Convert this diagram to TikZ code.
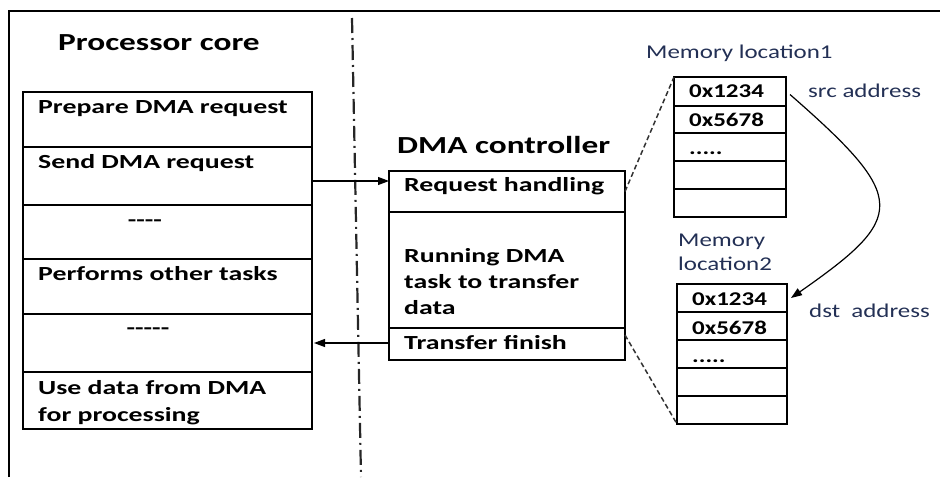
\documentclass[tikz,border=0pt]{standalone}
\usepackage{fontspec}
\setmainfont{Carlito}[FakeStretch=1.28]
\newfontfamily\boxfont{Carlito}[FakeStretch=1.39]
\newfontfamily\headfont{Carlito}[FakeStretch=1.36]
\usetikzlibrary{arrows.meta,calc}
\definecolor{memtext}{RGB}{35,48,85}
\begin{document}
\begin{tikzpicture}[x=1pt,y=-1pt,
  cell/.style={draw, line width=1.3pt, anchor=north west, inner sep=0pt, outer sep=0pt},
  btxt/.style={anchor=base west, inner sep=0pt, font=\boxfont\bfseries\fontsize{20}{26}\selectfont},
  ctxt/.style={anchor=base, inner sep=0pt, font=\boxfont\bfseries\fontsize{20}{26}\selectfont},
  vtxt/.style={anchor=base west, inner sep=0pt, font=\bfseries\fontsize{19.5}{26}\selectfont},
  title/.style={anchor=base west, inner sep=0pt, font=\headfont\bfseries\fontsize{24.5}{28}\selectfont},
  memlbl/.style={anchor=base west, inner sep=0pt, text=memtext, font=\fontsize{19.5}{26}\selectfont},
  arr/.style={line width=1.1pt, -{Triangle[length=11pt,width=8pt]}},
  link/.style={line width=1.5pt, dash pattern=on 5pt off 3pt, black!80},
]
\useasboundingbox (0,0) rectangle (940,477);

% outer frame
\draw[line width=2.4pt] (9,477) -- (9,11) -- (940,11);

% divider between processor and DMA side
\coordinate (divtop) at (352,18);
\coordinate (divbot) at (361,477);
\draw[line width=2.2pt, black!85, dash pattern=on 15pt off 5pt on 2pt off 5pt] (divtop) -- (divbot);

% ---------- processor core ----------
\node[title] (ptitle) at (58,50) {Processor core};
\node[cell, minimum width=289pt, minimum height=55pt] (p1) at (23,92) {};
\node[cell, minimum width=289pt, minimum height=58pt] (p2) at (23,147) {};
\node[cell, minimum width=289pt, minimum height=54pt] (p3) at (23,205) {};
\node[cell, minimum width=289pt, minimum height=55pt] (p4) at (23,259) {};
\node[cell, minimum width=289pt, minimum height=58pt] (p5) at (23,314) {};
\node[cell, minimum width=289pt, minimum height=57pt] (p6) at (23,372) {};

\node[btxt] (t1) at (38,113) {Prepare DMA request};
\node[btxt] (t2) at (38,168) {Send DMA request};
\node[ctxt] (t3) at (145,226) {-{}-{}-{}-};
\node[btxt] (t4) at (38,280) {Performs other tasks};
\node[ctxt] (t5) at (148,334) {-{}-{}-{}-{}-};
\node[btxt] (t6) at (38,394) {Use data from DMA};
\node[btxt] (t7) at (38,421) {for processing};

% ---------- DMA controller ----------
\node[title] (dtitle) at (397,153) {DMA controller};
\node[cell, minimum width=236pt, minimum height=41pt] (d1) at (389,171) {};
\node[cell, minimum width=236pt, minimum height=116pt] (d2) at (389,212) {};
\node[cell, minimum width=236pt, minimum height=32pt] (d3) at (389,328) {};

\node[btxt] (u1) at (404,191) {Request handling};
\node[btxt] (u2) at (404,262) {Running DMA};
\node[btxt] (u3) at (404,288) {task to transfer};
\node[btxt] (u4) at (404,314) {data};
\node[btxt] (u5) at (404,349) {Transfer finish};

% ---------- memory location 1 ----------
\node[memlbl] (m1title) at (646,58) {Memory location1};
\node[cell, minimum width=112pt, minimum height=29pt] (m1a) at (674,77) {};
\node[cell, minimum width=112pt, minimum height=27pt] (m1b) at (674,106) {};
\node[cell, minimum width=112pt, minimum height=28pt] (m1c) at (674,133) {};
\node[cell, minimum width=112pt, minimum height=28pt] (m1d) at (674,161) {};
\node[cell, minimum width=112pt, minimum height=28pt] (m1e) at (674,189) {};
\node[vtxt] (v1) at (689,97) {0x1234};
\node[vtxt] (v2) at (689,126) {0x5678};
\node[vtxt] (v3) at (689,154) {.....};
\node[memlbl] (src) at (808,97) {src address};

% ---------- memory location 2 ----------
\node[memlbl] (m2title) at (678,246) {Memory};
\node[memlbl] (m2title2) at (678,270) {location2};
\node[cell, minimum width=110pt, minimum height=28pt] (m2a) at (677,284) {};
\node[cell, minimum width=110pt, minimum height=28pt] (m2b) at (677,312) {};
\node[cell, minimum width=110pt, minimum height=28pt] (m2c) at (677,340) {};
\node[cell, minimum width=110pt, minimum height=28pt] (m2d) at (677,368) {};
\node[cell, minimum width=110pt, minimum height=28pt] (m2e) at (677,396) {};
\node[vtxt] (w1) at (692,305) {0x1234};
\node[vtxt] (w2) at (692,334) {0x5678};
\node[vtxt] (w3) at (692,362) {.....};
\node[memlbl] (dst) at (809,317) {dst\ \ address};

% ---------- connectors ----------
\coordinate (reqout) at ([yshift=-5pt]p2.east);
\draw[arr] (reqout) -- (reqout -| d1.west);
\coordinate (finout) at ([yshift=1pt]d3.west);
\draw[arr] (finout) -- ([xshift=2pt]finout -| p5.east);

\draw[link] (d1.east) -- (m1a.north west);
\draw[link] ([yshift=-7pt]d3.north east) -- (m2e.south west);

\draw[line width=1.2pt, -{Triangle[length=11pt,width=8pt]}]
  ([xshift=4pt,yshift=-3pt]m1a.east) .. controls +(119,104) and +(116,-81) .. ([xshift=4pt]m2a.east);
\end{tikzpicture}
\end{document}
